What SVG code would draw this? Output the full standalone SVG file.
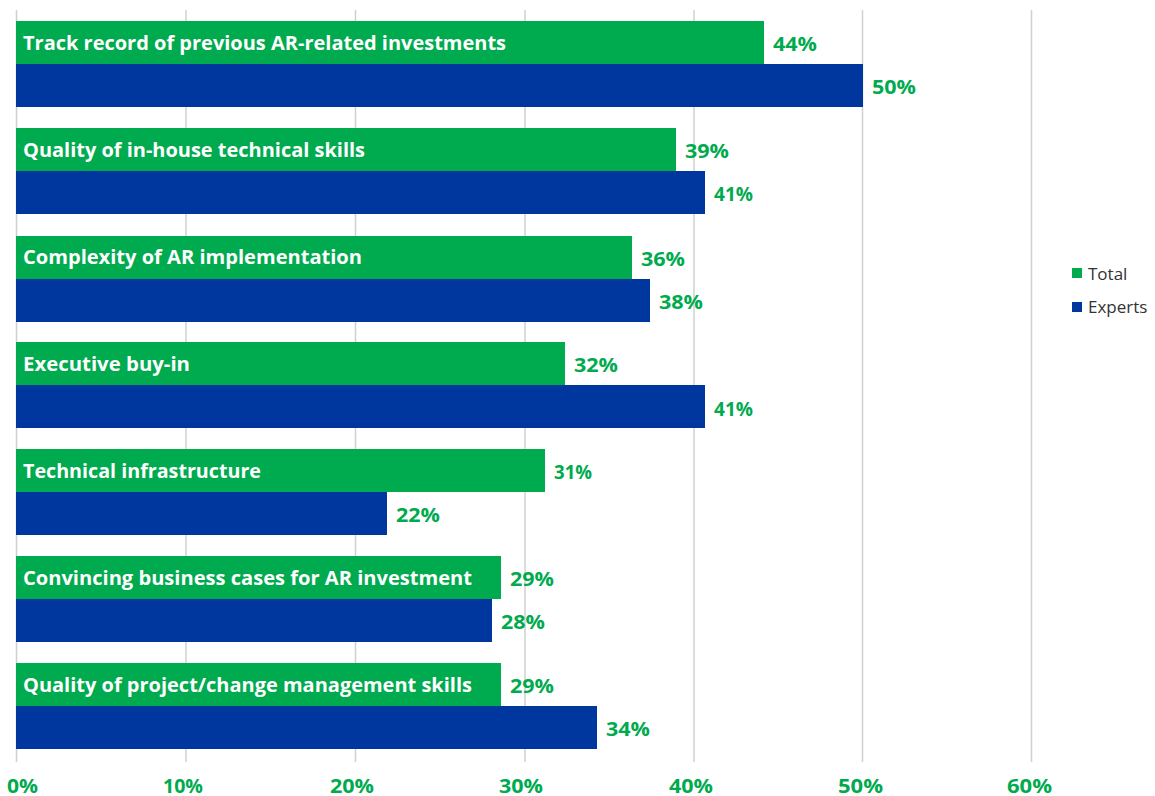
<svg xmlns="http://www.w3.org/2000/svg" width="1155" height="796" viewBox="0 0 1155 796">
<style>
.grid{stroke:#d0d0d0;stroke-width:1.5}
.g{fill:#00AA4E}
.b{fill:#00379E}
.cat{font-family:"Open Sans",Lato,sans-serif;font-weight:bold;font-size:19px;fill:#ffffff}
.val{font-family:"Open Sans",Lato,sans-serif;font-weight:bold;font-size:20px;fill:#00AA4E}
.ax{font-family:"Open Sans",Lato,sans-serif;font-weight:bold;font-size:20px;fill:#00AA4E;text-anchor:middle}
.leg{font-family:"Open Sans",Lato,sans-serif;font-size:17px;fill:#333333}
</style>
<rect width="1155" height="796" fill="#ffffff"/>
<g id="gridlines">
<line class="grid" x1="16.5" y1="10" x2="16.5" y2="762"/>
<line class="grid" x1="186" y1="10" x2="186" y2="762"/>
<line class="grid" x1="355.5" y1="10" x2="355.5" y2="762"/>
<line class="grid" x1="525" y1="10" x2="525" y2="762"/>
<line class="grid" x1="694" y1="10" x2="694" y2="762"/>
<line class="grid" x1="862.5" y1="10" x2="862.5" y2="762"/>
<line class="grid" x1="1031.5" y1="10" x2="1031.5" y2="762"/>
</g>
<g id="bar1">
<rect class="g" x="16" y="21" width="748" height="43"/>
<rect class="b" x="16" y="64" width="847" height="43"/>
<text class="cat" x="23" y="50" textLength="483" lengthAdjust="spacingAndGlyphs">Track record of previous AR-related investments</text>
<text class="val" x="773" y="51" textLength="44" lengthAdjust="spacingAndGlyphs">44%</text>
<text class="val" x="872" y="94" textLength="44" lengthAdjust="spacingAndGlyphs">50%</text>
</g>
<g id="bar2">
<rect class="g" x="16" y="128" width="660" height="43"/>
<rect class="b" x="16" y="171" width="689" height="43"/>
<text class="cat" x="23" y="157" textLength="342" lengthAdjust="spacingAndGlyphs">Quality of in-house technical skills</text>
<text class="val" x="685" y="158" textLength="44" lengthAdjust="spacingAndGlyphs">39%</text>
<text class="val" x="714" y="201" textLength="39" lengthAdjust="spacingAndGlyphs">41%</text>
</g>
<g id="bar3">
<rect class="g" x="16" y="236" width="616" height="43"/>
<rect class="b" x="16" y="279" width="634" height="43"/>
<text class="cat" x="23" y="264" textLength="339" lengthAdjust="spacingAndGlyphs">Complexity of AR implementation</text>
<text class="val" x="641" y="266" textLength="44" lengthAdjust="spacingAndGlyphs">36%</text>
<text class="val" x="659" y="309" textLength="44" lengthAdjust="spacingAndGlyphs">38%</text>
</g>
<g id="bar4">
<rect class="g" x="16" y="342" width="549" height="43"/>
<rect class="b" x="16" y="385" width="689" height="43"/>
<text class="cat" x="23" y="371" textLength="167" lengthAdjust="spacingAndGlyphs">Executive buy-in</text>
<text class="val" x="574" y="372" textLength="44" lengthAdjust="spacingAndGlyphs">32%</text>
<text class="val" x="714" y="416" textLength="39" lengthAdjust="spacingAndGlyphs">41%</text>
</g>
<g id="bar5">
<rect class="g" x="16" y="449" width="529" height="43"/>
<rect class="b" x="16" y="492" width="371" height="43"/>
<text class="cat" x="23" y="478" textLength="238" lengthAdjust="spacingAndGlyphs">Technical infrastructure</text>
<text class="val" x="554" y="479" textLength="38" lengthAdjust="spacingAndGlyphs">31%</text>
<text class="val" x="396" y="522" textLength="44" lengthAdjust="spacingAndGlyphs">22%</text>
</g>
<g id="bar6">
<rect class="g" x="16" y="556" width="485" height="43"/>
<rect class="b" x="16" y="599" width="476" height="43"/>
<text class="cat" x="23" y="585" textLength="449" lengthAdjust="spacingAndGlyphs">Convincing business cases for AR investment</text>
<text class="val" x="510" y="586" textLength="44" lengthAdjust="spacingAndGlyphs">29%</text>
<text class="val" x="501" y="629" textLength="44" lengthAdjust="spacingAndGlyphs">28%</text>
</g>
<g id="bar7">
<rect class="g" x="16" y="663" width="485" height="43"/>
<rect class="b" x="16" y="706" width="581" height="43"/>
<text class="cat" x="23" y="692" textLength="449" lengthAdjust="spacingAndGlyphs">Quality of project/change management skills</text>
<text class="val" x="510" y="693" textLength="44" lengthAdjust="spacingAndGlyphs">29%</text>
<text class="val" x="606" y="736" textLength="44" lengthAdjust="spacingAndGlyphs">34%</text>
</g>
<g id="axis">
<text class="ax" x="22.5" y="793" textLength="31" lengthAdjust="spacingAndGlyphs">0%</text>
<text class="ax" x="183" y="793" textLength="40" lengthAdjust="spacingAndGlyphs">10%</text>
<text class="ax" x="352" y="793" textLength="44" lengthAdjust="spacingAndGlyphs">20%</text>
<text class="ax" x="521" y="793" textLength="44" lengthAdjust="spacingAndGlyphs">30%</text>
<text class="ax" x="691" y="793" textLength="44" lengthAdjust="spacingAndGlyphs">40%</text>
<text class="ax" x="860.5" y="793" textLength="45" lengthAdjust="spacingAndGlyphs">50%</text>
<text class="ax" x="1029.5" y="793" textLength="45" lengthAdjust="spacingAndGlyphs">60%</text>
</g>
<g id="legend">
<rect class="g" x="1072" y="268" width="10" height="10"/>
<text class="leg" x="1088" y="280">Total</text>
<rect class="b" x="1072" y="302" width="10" height="10"/>
<text class="leg" x="1088" y="313">Experts</text>
</g>
</svg>
